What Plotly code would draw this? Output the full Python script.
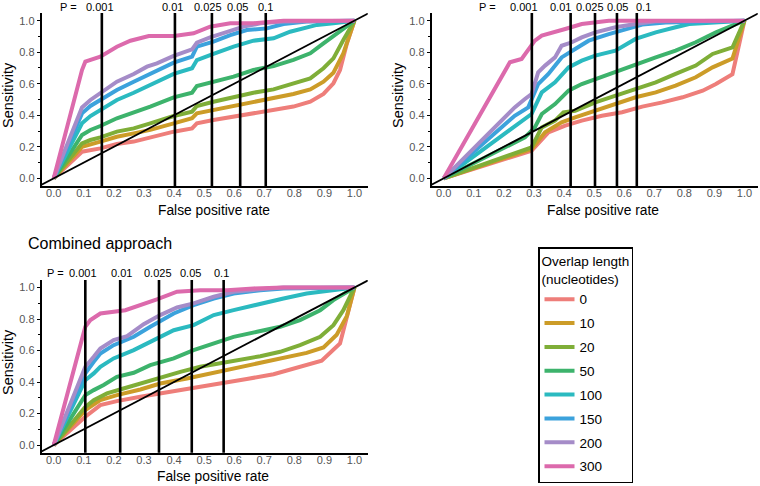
import plotly.graph_objects as go

# ---------------- data ----------------
overlaps = ["0", "10", "20", "50", "100", "150", "200", "300"]
colors = ["#EE7E7A", "#CC9C28", "#7FAE38", "#3DB36C", "#2BBAC0", "#3CA2DC", "#A58CC8", "#DC6AAC"]
p_labels = ["0.001", "0.01", "0.025", "0.05", "0.1"]
x_ticks = [0.0, 0.1, 0.2, 0.3, 0.4, 0.5, 0.6, 0.7, 0.8, 0.9, 1.0]
y_ticks = [0.0, 0.2, 0.4, 0.6, 0.8, 1.0]

# P-value cut-offs (false positive rate) per panel
cut_tl = [0.16, 0.403, 0.526, 0.62, 0.705]
cut_tr = [0.293, 0.422, 0.503, 0.576, 0.642]
cut_b = [0.105, 0.221, 0.350, 0.459, 0.565]

# ---- top-left panel ----
fpr_tl_0 = [0, 0.094, 0.155, 0.21, 0.266, 0.321, 0.399, 0.46, 0.476, 0.531, 0.598, 0.664, 0.731, 0.797, 0.853, 0.897, 0.93, 0.952, 0.975, 1]
sens_tl_0 = [0, 0.169, 0.19, 0.218, 0.233, 0.26, 0.296, 0.317, 0.349, 0.37, 0.391, 0.412, 0.429, 0.455, 0.486, 0.535, 0.603, 0.687, 0.856, 1]
fpr_tl_10 = [0, 0.094, 0.155, 0.21, 0.266, 0.321, 0.399, 0.46, 0.476, 0.531, 0.598, 0.664, 0.731, 0.797, 0.853, 0.897, 0.93, 0.963, 1]
sens_tl_10 = [0, 0.2, 0.233, 0.264, 0.285, 0.307, 0.349, 0.381, 0.412, 0.433, 0.459, 0.486, 0.507, 0.535, 0.564, 0.613, 0.67, 0.793, 1]
fpr_tl_20 = [0, 0.094, 0.122, 0.155, 0.21, 0.266, 0.321, 0.399, 0.46, 0.476, 0.531, 0.598, 0.664, 0.731, 0.797, 0.853, 0.897, 0.93, 0.963, 1]
sens_tl_20 = [0, 0.222, 0.243, 0.26, 0.296, 0.317, 0.349, 0.395, 0.423, 0.459, 0.486, 0.514, 0.543, 0.564, 0.603, 0.634, 0.698, 0.761, 0.877, 1]
fpr_tl_50 = [0, 0.094, 0.122, 0.155, 0.21, 0.266, 0.321, 0.399, 0.46, 0.476, 0.531, 0.598, 0.664, 0.731, 0.797, 0.853, 0.897, 0.941, 1]
sens_tl_50 = [0, 0.275, 0.307, 0.332, 0.381, 0.416, 0.455, 0.514, 0.543, 0.586, 0.613, 0.645, 0.687, 0.712, 0.751, 0.793, 0.856, 0.92, 1]
fpr_tl_100 = [0, 0.094, 0.122, 0.155, 0.21, 0.266, 0.321, 0.399, 0.46, 0.476, 0.531, 0.598, 0.664, 0.731, 0.786, 0.875, 0.93, 1]
sens_tl_100 = [0, 0.349, 0.395, 0.433, 0.497, 0.543, 0.592, 0.662, 0.698, 0.75, 0.789, 0.835, 0.873, 0.888, 0.93, 0.973, 0.983, 1]
fpr_tl_150 = [0, 0.094, 0.122, 0.155, 0.21, 0.266, 0.31, 0.399, 0.46, 0.476, 0.531, 0.587, 0.642, 0.709, 0.764, 0.841, 1]
sens_tl_150 = [0, 0.412, 0.459, 0.497, 0.56, 0.613, 0.655, 0.734, 0.772, 0.835, 0.867, 0.909, 0.941, 0.951, 0.979, 0.994, 1]
fpr_tl_200 = [0, 0.094, 0.122, 0.155, 0.21, 0.266, 0.31, 0.343, 0.399, 0.46, 0.476, 0.52, 0.576, 0.631, 0.687, 0.764, 1]
sens_tl_200 = [0, 0.45, 0.497, 0.539, 0.613, 0.662, 0.708, 0.729, 0.776, 0.818, 0.86, 0.894, 0.93, 0.962, 0.983, 0.994, 1]
fpr_tl_300 = [0, 0.094, 0.105, 0.155, 0.21, 0.255, 0.316, 0.40, 0.465, 0.52, 0.587, 0.664, 0.764, 1]
sens_tl_300 = [0, 0.687, 0.74, 0.772, 0.835, 0.873, 0.903, 0.903, 0.92, 0.962, 0.983, 0.983, 1.0, 1]

# ---- top-right panel ----
fpr_tr_0 = [0, 0.292, 0.348, 0.404, 0.459, 0.526, 0.593, 0.66, 0.727, 0.794, 0.861, 0.905, 0.96, 1]
sens_tr_0 = [0, 0.175, 0.292, 0.334, 0.366, 0.397, 0.419, 0.455, 0.482, 0.514, 0.556, 0.598, 0.66, 1]
fpr_tr_10 = [0, 0.292, 0.337, 0.392, 0.437, 0.504, 0.571, 0.638, 0.705, 0.771, 0.838, 0.894, 0.96, 1]
sens_tr_10 = [0, 0.186, 0.292, 0.355, 0.387, 0.429, 0.471, 0.514, 0.545, 0.588, 0.641, 0.704, 0.76, 1]
fpr_tr_20 = [0, 0.292, 0.326, 0.37, 0.398, 0.437, 0.504, 0.571, 0.638, 0.705, 0.771, 0.838, 0.894, 0.96, 1]
sens_tr_20 = [0, 0.197, 0.323, 0.366, 0.419, 0.429, 0.482, 0.524, 0.567, 0.609, 0.662, 0.715, 0.789, 0.83, 1]
fpr_tr_50 = [0, 0.27, 0.303, 0.326, 0.37, 0.415, 0.459, 0.504, 0.571, 0.638, 0.705, 0.771, 0.838, 0.905, 1]
sens_tr_50 = [0, 0.26, 0.323, 0.408, 0.471, 0.556, 0.598, 0.63, 0.672, 0.725, 0.767, 0.81, 0.863, 0.926, 1]
fpr_tr_100 = [0, 0.259, 0.292, 0.326, 0.37, 0.415, 0.459, 0.504, 0.571, 0.638, 0.705, 0.771, 0.816, 1]
sens_tr_100 = [0, 0.355, 0.408, 0.545, 0.609, 0.704, 0.746, 0.778, 0.81, 0.884, 0.926, 0.958, 0.979, 1]
fpr_tr_150 = [0, 0.236, 0.281, 0.314, 0.348, 0.392, 0.437, 0.482, 0.549, 0.604, 0.66, 0.738, 1]
sens_tr_150 = [0, 0.397, 0.45, 0.598, 0.662, 0.767, 0.82, 0.873, 0.915, 0.947, 0.975, 0.989, 1]
fpr_tr_200 = [0, 0.236, 0.27, 0.292, 0.314, 0.337, 0.37, 0.392, 0.426, 0.459, 0.504, 0.571, 0.638, 0.705, 1]
sens_tr_200 = [0, 0.45, 0.503, 0.535, 0.672, 0.715, 0.767, 0.841, 0.863, 0.894, 0.926, 0.958, 0.979, 0.996, 1]
fpr_tr_300 = [0, 0.22, 0.259, 0.281, 0.303, 0.326, 0.37, 0.404, 0.459, 0.549, 1]
sens_tr_300 = [0, 0.736, 0.757, 0.81, 0.873, 0.905, 0.926, 0.947, 0.979, 1.0, 1]

# ---- bottom panel (combined approach) ----
fpr_b_0 = [0, 0.105, 0.155, 0.21, 0.288, 0.377, 0.465, 0.554, 0.642, 0.731, 0.819, 0.891, 0.952, 1]
sens_b_0 = [0, 0.18, 0.254, 0.279, 0.307, 0.334, 0.359, 0.387, 0.419, 0.45, 0.497, 0.535, 0.645, 1]
fpr_b_10 = [0, 0.105, 0.155, 0.21, 0.288, 0.354, 0.443, 0.509, 0.598, 0.687, 0.764, 0.841, 0.897, 0.941, 0.975, 1]
sens_b_10 = [0, 0.222, 0.285, 0.317, 0.353, 0.391, 0.423, 0.45, 0.486, 0.518, 0.55, 0.585, 0.62, 0.7, 0.82, 1]
fpr_b_20 = [0, 0.105, 0.133, 0.177, 0.232, 0.288, 0.354, 0.421, 0.487, 0.554, 0.62, 0.687, 0.753, 0.819, 0.886, 0.93, 0.963, 1]
sens_b_20 = [0, 0.243, 0.285, 0.328, 0.359, 0.391, 0.433, 0.465, 0.497, 0.518, 0.539, 0.564, 0.592, 0.634, 0.687, 0.761, 0.856, 1]
fpr_b_50 = [0, 0.105, 0.133, 0.166, 0.21, 0.266, 0.321, 0.399, 0.465, 0.532, 0.598, 0.676, 0.753, 0.819, 0.886, 0.93, 1]
sens_b_50 = [0, 0.317, 0.349, 0.381, 0.433, 0.459, 0.507, 0.55, 0.603, 0.645, 0.687, 0.719, 0.751, 0.793, 0.856, 0.92, 1]
fpr_b_100 = [0, 0.105, 0.133, 0.155, 0.199, 0.266, 0.321, 0.399, 0.465, 0.532, 0.598, 0.687, 0.764, 0.841, 0.93, 1]
sens_b_100 = [0, 0.412, 0.455, 0.497, 0.55, 0.603, 0.655, 0.729, 0.761, 0.825, 0.856, 0.899, 0.93, 0.962, 0.983, 1]
fpr_b_150 = [0, 0.105, 0.133, 0.155, 0.199, 0.266, 0.321, 0.399, 0.465, 0.532, 0.598, 0.687, 0.764, 1]
sens_b_150 = [0, 0.455, 0.529, 0.581, 0.634, 0.687, 0.751, 0.835, 0.888, 0.93, 0.962, 0.983, 0.994, 1]
fpr_b_200 = [0, 0.105, 0.133, 0.155, 0.199, 0.244, 0.299, 0.354, 0.41, 0.465, 0.532, 0.598, 0.676, 0.764, 1]
sens_b_200 = [0, 0.497, 0.56, 0.613, 0.666, 0.691, 0.767, 0.825, 0.873, 0.899, 0.941, 0.973, 0.987, 1.0, 1]
fpr_b_300 = [0, 0.105, 0.122, 0.155, 0.238, 0.288, 0.343, 0.41, 0.487, 0.576, 0.664, 0.764, 1]
sens_b_300 = [0, 0.751, 0.793, 0.835, 0.856, 0.888, 0.924, 0.973, 0.983, 0.983, 0.994, 1.0, 1]

# ---------------- layout helpers ----------------
W, H = 760, 486
XR = [-0.04, 1.044]
YR = [-0.048, 1.048]
FONT = "Liberation Sans, Arial, sans-serif"

def px_x(p):
    return p / W

def px_y(p):
    return 1 - p / H

panels = [
    dict(xa="x", ya="y", dom_x=[41.7, 367.7], dom_y=[185.9, 13.1],
         curves=[(fpr_tl_0, sens_tl_0), (fpr_tl_10, sens_tl_10), (fpr_tl_20, sens_tl_20), (fpr_tl_50, sens_tl_50),
                 (fpr_tl_100, sens_tl_100), (fpr_tl_150, sens_tl_150), (fpr_tl_200, sens_tl_200), (fpr_tl_300, sens_tl_300)],
         cuts=cut_tl, lab_shift=[-2, -2, -4, -3, 0], p_eq_x=0.048, lab_y=6.7,
         ylab=(8, 95), xlab=(213.8, 210.7)),
    dict(xa="x2", ya="y2", dom_x=[431.7, 757.7], dom_y=[185.9, 13.1],
         curves=[(fpr_tr_0, sens_tr_0), (fpr_tr_10, sens_tr_10), (fpr_tr_20, sens_tr_20), (fpr_tr_50, sens_tr_50),
                 (fpr_tr_100, sens_tr_100), (fpr_tr_150, sens_tr_150), (fpr_tr_200, sens_tr_200), (fpr_tr_300, sens_tr_300)],
         cuts=cut_tr, lab_shift=[-8, -10, -5, 1, 7], p_eq_x=0.146, lab_y=6.7,
         ylab=(398, 95), xlab=(603.3, 210.7)),
    dict(xa="x3", ya="y3", dom_x=[41.7, 367.7], dom_y=[452.7, 279.9],
         curves=[(fpr_b_0, sens_b_0), (fpr_b_10, sens_b_10), (fpr_b_20, sens_b_20), (fpr_b_50, sens_b_50),
                 (fpr_b_100, sens_b_100), (fpr_b_150, sens_b_150), (fpr_b_200, sens_b_200), (fpr_b_300, sens_b_300)],
         cuts=cut_b, lab_shift=[-2, 1, -1, -1, -2], p_eq_x=0.005, lab_y=273.3,
         ylab=(8, 362), xlab=(212.5, 476.7)),
]

fig = go.Figure()
shapes = []
annotations = []
layout_axes = {}

for pi, pn in enumerate(panels):
    for k, (fx, sy) in enumerate(pn["curves"]):
        fig.add_trace(go.Scatter(
            x=fx, y=sy, mode="lines", xaxis=pn["xa"], yaxis=pn["ya"],
            name=overlaps[k], legendgroup=overlaps[k], showlegend=(pi == 0),
            line=dict(color=colors[k], width=4),
        ))
    # diagonal reference line
    shapes.append(dict(type="line", xref=pn["xa"], yref=pn["ya"],
                       x0=YR[0], y0=YR[0], x1=YR[1], y1=YR[1],
                       line=dict(color="black", width=1.8), layer="above"))
    # P-value cut-off lines and labels
    for j, c in enumerate(pn["cuts"]):
        shapes.append(dict(type="line", xref=pn["xa"], yref=pn["ya"] + " domain",
                           x0=c, x1=c, y0=0, y1=1,
                           line=dict(color="black", width=2.6), layer="above"))
        annotations.append(dict(x=c, xref=pn["xa"], y=px_y(pn["lab_y"]), yref="paper",
                                text=p_labels[j], showarrow=False, xshift=pn["lab_shift"][j],
                                xanchor="center", yanchor="middle",
                                font=dict(family=FONT, size=11, color="black")))
    annotations.append(dict(x=pn["p_eq_x"], xref=pn["xa"], y=px_y(pn["lab_y"]), yref="paper",
                            text="P =", showarrow=False, xanchor="center", yanchor="middle",
                            font=dict(family=FONT, size=11, color="black")))
    # axis titles
    annotations.append(dict(x=px_x(pn["ylab"][0]), y=px_y(pn["ylab"][1]), xref="paper", yref="paper",
                            text="Sensitivity", textangle=-90, showarrow=False,
                            xanchor="center", yanchor="middle",
                            font=dict(family=FONT, size=14.5, color="black")))
    annotations.append(dict(x=px_x(pn["xlab"][0]), y=px_y(pn["xlab"][1]), xref="paper", yref="paper",
                            text="False positive rate", showarrow=False,
                            xanchor="center", yanchor="middle",
                            font=dict(family=FONT, size=13.8, color="black")))
    xkey = "xaxis" + pn["xa"][1:]
    ykey = "yaxis" + pn["ya"][1:]
    layout_axes[xkey] = dict(
        domain=[px_x(pn["dom_x"][0]), px_x(pn["dom_x"][1])], range=XR, anchor=pn["ya"],
        showgrid=False, zeroline=False, showline=True, linecolor="black", linewidth=2,
        tickmode="array", tickvals=x_ticks, ticktext=[f"{v:.1f}" for v in x_ticks],
        ticks="", ticklabelstandoff=-4,
        tickfont=dict(family=FONT, size=11, color="#555555"),
    )
    layout_axes[ykey] = dict(
        domain=[px_y(pn["dom_y"][0]), px_y(pn["dom_y"][1])], range=YR, anchor=pn["xa"],
        showgrid=False, zeroline=False, showline=True, linecolor="black", linewidth=2,
        tickmode="array", tickvals=y_ticks, ticktext=[f"{v:.1f}" for v in y_ticks],
        ticks="outside", ticklen=3, tickwidth=1.2, tickcolor="black",
        minor=dict(ticks="outside", ticklen=2, tickwidth=1, tickcolor="black", dtick=0.1, tick0=0),
        tickfont=dict(family=FONT, size=11, color="#555555"),
    )

annotations.append(dict(x=px_x(26), y=px_y(243), xref="paper", yref="paper",
                        text="Combined approach", showarrow=False,
                        xanchor="left", yanchor="middle",
                        font=dict(family=FONT, size=16, color="black")))

fig.update_layout(
    width=W, height=H,
    margin=dict(l=0, r=0, t=0, b=0),
    paper_bgcolor="white", plot_bgcolor="white",
    font=dict(family=FONT, color="black"),
    shapes=shapes, annotations=annotations,
    legend=dict(
        x=px_x(538), y=px_y(247.3), xanchor="left", yanchor="top",
        bordercolor="black", borderwidth=1.5, bgcolor="white",
        title=dict(text="Overlap length<br>(nucleotides)", font=dict(family=FONT, size=13.5, color="black")),
        font=dict(family=FONT, size=13.5, color="black"),
        traceorder="grouped", tracegroupgap=3.3,
    ),
    **layout_axes,
)

fig.write_html("out.html", config={"displayModeBar": False},
               post_script="document.body.style.margin='0px';document.body.style.overflow='hidden';")
